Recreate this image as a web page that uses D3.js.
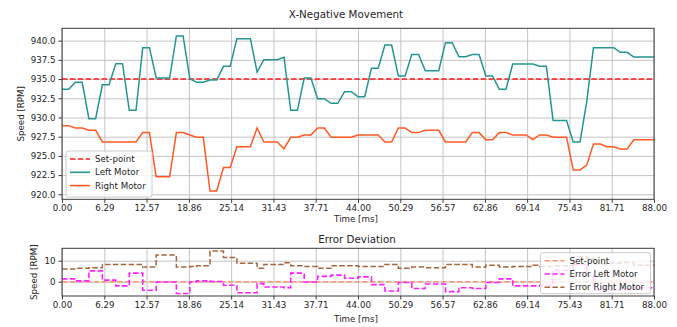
<!DOCTYPE html>
<html><head><meta charset="utf-8">
<script src="https://cdn.jsdelivr.net/npm/d3@7/dist/d3.min.js"></script>
<style>
html,body{margin:0;padding:0;background:#fff;}
svg{display:block;font-family:"DejaVu Sans",sans-serif;}
.tick text{fill:#262626;}
</style></head>
<body><svg id="c" width="677" height="327"></svg>
<script>
// ---- data ----
const times = [0,1,2,3,4,5,6,7,8,9,10,11,12,13,14,15,16,17,18,19,20,21,22,23,24,25,26,27,28,29,30,31,32,33,34,35,36,37,38,39,40,41,42,43,44,45,46,47,48,49,50,51,52,53,54,55,56,57,58,59,60,61,62,63,64,65,66,67,68,69,70,71,72,73,74,75,76,77,78,79,80,81,82,83,84,85,86,87,88];
const setpoint = 935;
const leftMotor = [933.67,933.67,934.58,934.58,929.85,929.85,934.25,934.25,937.0,937.0,930.93,930.93,939.09,939.09,935.14,935.14,935.14,940.61,940.61,935.05,934.58,934.58,934.88,934.88,936.66,936.66,940.26,940.26,940.26,935.92,937.53,937.53,937.53,937.83,930.93,930.93,935.14,935.14,932.45,932.45,931.85,931.85,933.36,933.36,932.71,932.71,936.4,936.4,939.44,939.44,935.4,935.4,938.2,938.2,936.1,936.1,936.1,939.74,939.74,937.9,937.9,938.2,938.2,935.4,935.4,933.67,933.67,936.96,936.96,936.96,936.96,936.66,936.66,929.6,929.6,929.6,926.8,926.8,932.06,939.09,939.09,939.09,939.09,938.48,938.48,937.87,937.87,937.87,937.87];
const rightMotor = [928.94,928.94,928.63,928.63,928.33,928.33,926.81,926.81,926.81,926.81,926.81,926.81,928.03,928.03,922.3,922.3,922.3,928.03,928.03,927.72,927.42,927.42,920.43,920.43,923.5,923.5,926.2,926.2,926.2,928.63,926.81,926.81,926.81,925.94,927.42,927.42,927.72,927.72,928.63,928.63,927.42,927.42,927.42,927.42,927.72,927.72,927.72,927.72,926.81,926.81,928.63,928.63,928.03,928.03,928.33,928.33,928.33,926.81,926.81,926.81,926.81,928.03,928.03,927.11,927.11,928.03,928.03,927.72,927.72,927.72,927.11,927.72,927.72,927.42,927.42,927.42,923.17,923.17,923.8,926.55,926.55,926.2,926.2,925.9,925.9,927.11,927.11,927.11,927.11];
const errorLeft = [1.33,1.33,0.42,0.42,5.15,5.15,0.75,0.75,-2.0,-2.0,4.07,4.07,-4.09,-4.09,-0.14,-0.14,-0.14,-5.61,-5.61,-0.05,0.42,0.42,0.12,0.12,-1.66,-1.66,-5.26,-5.26,-5.26,-0.92,-2.53,-2.53,-2.53,-2.83,4.07,4.07,-0.14,-0.14,2.55,2.55,3.15,3.15,1.64,1.64,2.29,2.29,-1.4,-1.4,-4.44,-4.44,-0.4,-0.4,-3.2,-3.2,-1.1,-1.1,-1.1,-4.74,-4.74,-2.9,-2.9,-3.2,-3.2,-0.4,-0.4,1.33,1.33,-1.96,-1.96,-1.96,-1.96,-1.66,-1.66,5.4,5.4,5.4,8.2,8.2,2.94,-4.09,-4.09,-4.09,-4.09,-3.48,-3.48,-2.87,-2.87,-2.87,-2.87];
const errorRight = [6.06,6.06,6.37,6.37,6.67,6.67,8.19,8.19,8.19,8.19,8.19,8.19,6.97,6.97,12.7,12.7,12.7,6.97,6.97,7.28,7.58,7.58,14.57,14.57,11.5,11.5,8.8,8.8,8.8,6.37,8.19,8.19,8.19,9.06,7.58,7.58,7.28,7.28,6.37,6.37,7.58,7.58,7.58,7.58,7.28,7.28,7.28,7.28,8.19,8.19,6.37,6.37,6.97,6.97,6.67,6.67,6.67,8.19,8.19,8.19,8.19,6.97,6.97,7.89,7.89,6.97,6.97,7.28,7.28,7.28,7.89,7.28,7.28,7.58,7.58,7.58,11.83,11.83,11.2,8.45,8.45,8.8,8.8,9.1,9.1,7.89,7.89,7.89,7.89];
const errorSetpoint = 0;
const xTicks = [0,6.29,12.57,18.86,25.14,31.43,37.71,44.00,50.29,56.57,62.86,69.14,75.43,81.71,88.00];
const yTicksTop = [920,922.5,925,927.5,930,932.5,935,937.5,940];
const yTicksBottom = [0,10];
const titleTop = "X-Negative Movement";
const titleBottom = "Error Deviation";
const xLabel = "Time [ms]";
const yLabel = "Speed [RPM]";

// ---- styles ----
const C = {left:"#25968f", right:"#ff5a24", sp:"#ff1a1a", sp2:"#f99a7c", eL:"#ff22ff", eR:"#a8663e",
           grid:"#c4c4c4", spine:"#3a3a3a", text:"#262626"};
const FS = 8.7;

const svg = d3.select("#c");
const L = 62, R = 654;

function panel(pt, pb, yDomain, yTicks, yFmt, title, titleX, titleY, labelY, yLabelX) {
  const x = d3.scaleLinear().domain([0, 88]).range([L, R]);
  const y = d3.scaleLinear().domain(yDomain).range([pb, pt]);
  const g = svg.append("g");
  g.append("g").attr("transform", `translate(0,${pb})`)
    .call(d3.axisBottom(x).tickValues(xTicks).tickSize(-(pb - pt)).tickFormat(""))
    .call(a => { a.select(".domain").remove(); a.selectAll("line").attr("stroke", C.grid).attr("stroke-width", 1); });
  g.append("g").attr("transform", `translate(${L},0)`)
    .call(d3.axisLeft(y).tickValues(yTicks).tickSize(-(R - L)).tickFormat(""))
    .call(a => { a.select(".domain").remove(); a.selectAll("line").attr("stroke", C.grid).attr("stroke-width", 1); });
  g.append("g").attr("transform", `translate(0,${pb})`)
    .call(d3.axisBottom(x).tickValues(xTicks).tickSize(3.5).tickPadding(2.5).tickFormat(d3.format(".2f")))
    .call(a => { a.select(".domain").remove(); a.selectAll("line").attr("stroke", C.spine);
                 a.selectAll("text").attr("font-size", FS).attr("font-family", "DejaVu Sans").attr("fill", C.text); });
  g.append("g").attr("transform", `translate(${L},0)`)
    .call(d3.axisLeft(y).tickValues(yTicks).tickSize(3.5).tickPadding(3).tickFormat(yFmt))
    .call(a => { a.select(".domain").remove(); a.selectAll("line").attr("stroke", C.spine);
                 a.selectAll("text").attr("font-size", FS).attr("font-family", "DejaVu Sans").attr("fill", C.text); });
  svg.append("text").attr("x", titleX).attr("y", titleY).attr("text-anchor", "middle")
    .attr("font-size", 10.3).attr("fill", C.text).text(title);
  svg.append("text").attr("x", 356).attr("y", labelY).attr("text-anchor", "middle")
    .attr("font-size", FS).attr("fill", C.text).text(xLabel);
  svg.append("text").attr("transform", `translate(${yLabelX},${(pt + pb) / 2}) rotate(-90)`)
    .attr("text-anchor", "middle").attr("dominant-baseline", "central")
    .attr("font-size", FS).attr("fill", C.text).text(yLabel);
  return {x, y, g, pt, pb};
}

function spines(p) {
  svg.append("rect").attr("x", L).attr("y", p.pt).attr("width", R - L).attr("height", p.pb - p.pt)
    .attr("fill", "none").attr("stroke", C.spine).attr("stroke-width", 1);
}

function legend(x0, y0, w, h, items) {
  const lg = svg.append("g");
  lg.append("rect").attr("x", x0).attr("y", y0).attr("width", w).attr("height", h).attr("rx", 2)
    .attr("fill", "#fff").attr("fill-opacity", 0.8).attr("stroke", "#cccccc").attr("stroke-width", 1);
  items.forEach((it, i) => {
    const yy = y0 + 8 + i * 13.3;
    lg.append("line").attr("x1", x0 + 4).attr("x2", x0 + 24).attr("y1", yy).attr("y2", yy)
      .attr("stroke", it.color).attr("stroke-width", 1.6).attr("stroke-dasharray", it.dash || null);
    lg.append("text").attr("x", x0 + 29).attr("y", yy).attr("dominant-baseline", "central")
      .attr("font-size", FS).attr("fill", C.text).text(it.label);
  });
}

// ---- top panel ----
const pTop = panel(28.3, 199.3, [919.35, 941.61], yTicksTop, d3.format(".1f"), titleTop, 346, 18, 222, 21);
const line = d3.line().x((d, i) => pTop.x(times[i])).y(d => pTop.y(d));
pTop.g.append("path").datum(times.map(() => setpoint))
  .attr("d", line).attr("fill", "none").attr("stroke", C.sp).attr("stroke-width", 1.5).attr("stroke-dasharray", "5.5,2.4");
pTop.g.append("path").datum(leftMotor).attr("d", line).attr("fill", "none").attr("stroke", C.left).attr("stroke-width", 1.5);
pTop.g.append("path").datum(rightMotor).attr("d", line).attr("fill", "none").attr("stroke", C.right).attr("stroke-width", 1.5);
spines(pTop);
legend(66, 151, 86, 46, [
  {label: "Set-point", color: C.sp, dash: "5.5,2.4"},
  {label: "Left Motor", color: C.left},
  {label: "Right Motor", color: C.right}
]);

// ---- bottom panel ----
const pBot = panel(248.3, 296, [-6.8, 15.9], yTicksBottom, d3.format("d"), titleBottom, 357, 243, 322, 34);
const sline = d3.line().curve(d3.curveStepAfter).x((d, i) => pBot.x(times[i])).y(d => pBot.y(d));
pBot.g.append("path").datum(times.map(() => errorSetpoint)).attr("d", sline).attr("fill", "none")
  .attr("stroke", C.sp2).attr("stroke-width", 1.4).attr("stroke-dasharray", "5.5,2.4");
pBot.g.append("path").datum(errorLeft).attr("d", sline).attr("fill", "none")
  .attr("stroke", C.eL).attr("stroke-width", 1.6).attr("stroke-dasharray", "5.5,2.4");
pBot.g.append("path").datum(errorRight).attr("d", sline).attr("fill", "none")
  .attr("stroke", C.eR).attr("stroke-width", 1.5).attr("stroke-dasharray", "5.5,2.4");
spines(pBot);
legend(540.5, 252.7, 110, 41, [
  {label: "Set-point", color: C.sp2, dash: "5.5,2.4"},
  {label: "Error Left Motor", color: C.eL, dash: "5.5,2.4"},
  {label: "Error Right Motor", color: C.eR, dash: "5.5,2.4"}
]);
</script></body></html>
